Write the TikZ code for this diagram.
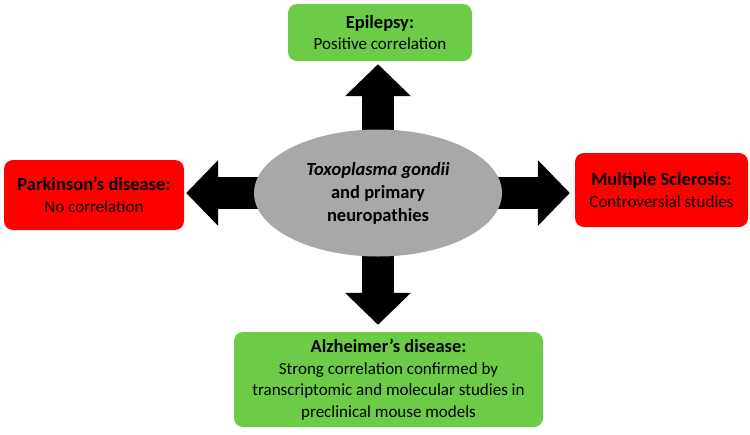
\documentclass[tikz,border=0pt]{standalone}
\usepackage{fontspec}
\setmainfont{Carlito}
\usetikzlibrary{shapes,arrows.meta,backgrounds}
\definecolor{boxgreen}{RGB}{108,204,72}
\definecolor{boxred}{RGB}{255,0,0}
\definecolor{hubgray}{RGB}{168,168,168}
\newcommand{\resulttitle}[1]{{\bfseries\fontsize{18.5}{21.5}\selectfont #1}}

\begin{document}
\begin{tikzpicture}[x=1pt,y=-1pt,
  result/.style={rounded corners=9pt,align=center,inner sep=0pt,font=\fontsize{17}{21.5}\selectfont},
  positive/.style={result,fill=boxgreen},
  negative/.style={result,fill=boxred},
  blockarrow/.style={line width=32pt,-{Triangle[width=64pt,length=32pt]}}]
\useasboundingbox (0,0) rectangle (750,434);
% centre
\node[ellipse,fill=hubgray,minimum width=248pt,minimum height=127pt,align=center,
  font=\bfseries\fontsize{18.5}{23}\selectfont] (hub) at (378,193)
  {\textit{Toxoplasma gondii}\\and primary\\neuropathies};
% results
\node[positive,minimum width=184pt,minimum height=57pt] (epi) at (380,32.5)
  {\resulttitle{Epilepsy:}\\Positive correlation};
\node[negative,minimum width=180pt,minimum height=70pt] (park) at (94,195)
  {\resulttitle{Parkinson’s disease:}\\No correlation};
\node[negative,minimum width=173pt,minimum height=74pt] (ms) at (661.5,190)
  {\resulttitle{Multiple Sclerosis:}\\Controversial studies};
\node[positive,minimum width=309pt,minimum height=95pt] (alz) at (388.5,379.5)
  {\resulttitle{Alzheimer’s disease:}\\Strong correlation confirmed by\\transcriptomic and molecular studies in\\preclinical mouse models};
% arrows
\begin{scope}[on background layer]
\draw[blockarrow,shorten >=3pt] (hub.center) -- (hub.center |- epi.south);
\draw[blockarrow,shorten >=2pt] (hub.center) -- (hub.center -| park.east);
\draw[blockarrow,shorten >=5pt] (hub.center) -- (hub.center -| ms.west);
\draw[blockarrow,shorten >=7pt] (hub.center) -- (hub.center |- alz.north);
\end{scope}
\end{tikzpicture}
\end{document}
